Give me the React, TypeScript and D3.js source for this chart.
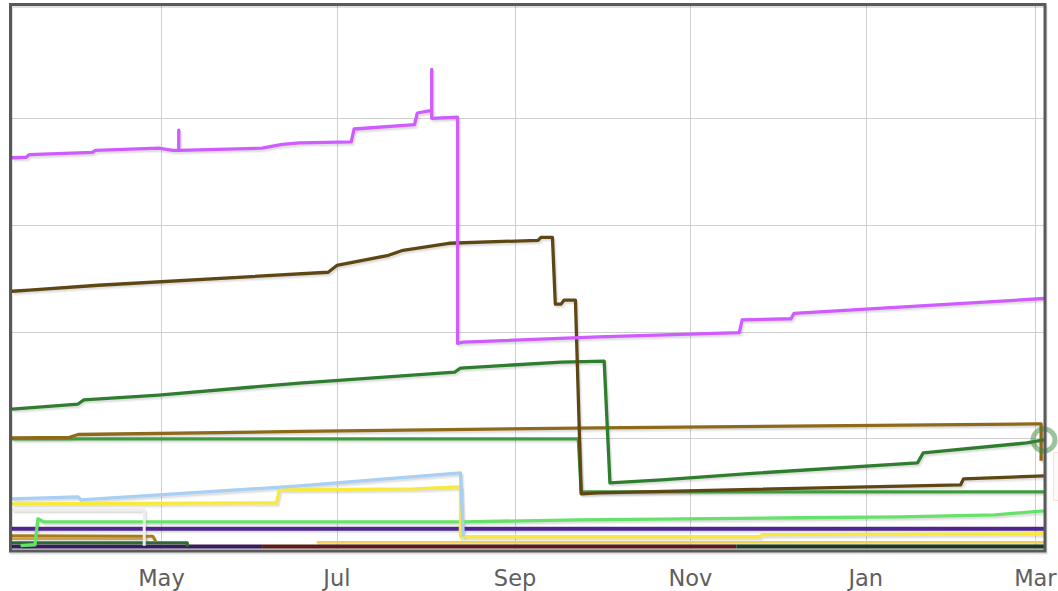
import React from "react";
import * as d3 from "d3";

const W = 1058;
const H = 591;

// x-axis month labels (tick dates)
const tickDates = ["2013-05-01", "2013-07-01", "2013-09-01", "2013-11-01", "2014-01-01", "2014-03-01"];
const tickLabels = ["May", "Jul", "Sep", "Nov", "Jan", "Mar"];
const gridValues = [100, 200, 300, 400];

type Pt = [string, number];

const magenta: Pt[] = [
  ["2013-03-10", 363], ["2013-03-15", 363.5], ["2013-03-16", 366], ["2013-04-07", 368], ["2013-04-08", 370],
  ["2013-04-30", 372], ["2013-05-05", 370], ["2013-05-07", 370], ["2013-05-07", 389], ["2013-05-07", 370],
  ["2013-06-05", 372], ["2013-06-12", 375.5], ["2013-06-18", 377], ["2013-07-06", 378], ["2013-07-07", 390],
  ["2013-07-28", 394], ["2013-07-29", 405], ["2013-08-02", 407], ["2013-08-03", 407], ["2013-08-03", 446],
  ["2013-08-03", 400], ["2013-08-12", 401], ["2013-08-12", 189], ["2013-08-14", 190], ["2013-09-30", 195],
  ["2013-11-18", 199], ["2013-11-19", 211], ["2013-12-06", 212], ["2013-12-07", 217], ["2014-03-04", 231],
];

const darkBrown: Pt[] = [
  ["2013-03-10", 237.8], ["2013-03-16", 238.8], ["2013-04-09", 243.4], ["2013-06-28", 255.6], ["2013-07-01", 262],
  ["2013-07-19", 271.5], ["2013-07-24", 276.2], ["2013-08-09", 282.8], ["2013-09-09", 285.6], ["2013-09-10", 288.4],
  ["2013-09-14", 288.4], ["2013-09-15", 225.7], ["2013-09-17", 225.7], ["2013-09-18", 229.4], ["2013-09-22", 229.4],
  ["2013-09-24", 47.8], ["2013-09-30", 48.7], ["2014-02-03", 56.2], ["2014-02-04", 61.8], ["2014-03-04", 64.6],
];

const darkGreen: Pt[] = [
  ["2013-03-10", 127.3], ["2013-04-02", 132], ["2013-04-04", 135.8], ["2013-04-30", 140.4], ["2013-06-18", 151.7],
  ["2013-08-11", 162], ["2013-08-13", 165.7], ["2013-09-17", 171.3], ["2013-10-02", 172.3], ["2013-10-04", 58],
  ["2013-10-22", 60.9], ["2013-11-20", 66.5], ["2014-01-19", 76.8], ["2014-01-21", 86.1], ["2014-02-26", 95.5],
  ["2014-03-04", 98.3],
];

const goldBrown: Pt[] = [
  ["2013-03-10", 100.2], ["2013-03-30", 100.8], ["2013-04-02", 103.4], ["2013-06-18", 106.3], ["2013-09-30", 109.6],
  ["2014-03-01", 113.3], ["2014-03-03", 113.3], ["2014-03-03", 78.7],
];

const midGreen: Pt[] = [
  ["2013-03-10", 99.3], ["2013-09-23", 99.3], ["2013-09-24", 49.6], ["2014-03-04", 49.6],
];

const lightBlue: Pt[] = [
  ["2013-03-10", 43.1], ["2013-04-02", 44.9], ["2013-04-03", 42.1], ["2013-06-18", 55.2], ["2013-08-13", 67.4],
  ["2013-08-14", 7.5],
];

const yellow: Pt[] = [
  ["2013-03-10", 38.4], ["2013-06-10", 39.3], ["2013-06-11", 51.5], ["2013-07-28", 52.4], ["2013-08-13", 54.3],
  ["2013-08-13", 7.5], ["2013-11-25", 7.5], ["2013-11-26", 9.4], ["2014-03-04", 10.3],
];

const paleGray: Pt[] = [
  ["2013-03-10", 32.8], ["2013-04-25", 32.8], ["2013-04-25", -0.9],
];

const brightGreen: Pt[] = [
  ["2013-03-13", -0.9], ["2013-03-18", 0], ["2013-03-19", 24.3], ["2013-03-21", 21.5], ["2013-08-14", 21.5],
  ["2013-09-23", 23.4], ["2013-12-09", 25.3], ["2014-01-13", 26.2], ["2014-02-15", 28.1], ["2014-03-04", 31.8],
];

const purple: Pt[] = [["2013-03-10", 15], ["2014-03-04", 15]];
const goldSmall: Pt[] = [["2013-03-10", 8.4], ["2013-04-28", 8.0], ["2013-04-29", 3.2]];
const tanSmall: Pt[] = [["2013-03-10", 5.6], ["2013-04-26", 5.6]];
const greenSmall: Pt[] = [["2013-03-10", 1.9], ["2013-05-10", 1.9], ["2013-05-10", -2]];
const yellowThin: Pt[] = [["2013-06-24", 2.4], ["2014-03-04", 2.4]];
const bottomPurple: Pt[] = [["2013-03-10", -1.6], ["2013-06-05", -1.6]];
const bottomRed: Pt[] = [["2013-06-05", -1.6], ["2013-11-17", -1.6]];
const bottomGreen: Pt[] = [["2013-11-17", -1.6], ["2014-03-04", -1.6]];

const seriesList: { data: Pt[]; color: string; width: number }[] = [
  { data: bottomPurple, color: "#3b1a5e", width: 4 },
  { data: bottomRed, color: "#5a1c1a", width: 4 },
  { data: bottomGreen, color: "#1c3a1e", width: 4 },
  { data: yellowThin, color: "#f0d050", width: 2.5 },
  { data: greenSmall, color: "#2e6b34", width: 3 },
  { data: tanSmall, color: "#c9a24a", width: 2.5 },
  { data: goldSmall, color: "#a67c1e", width: 3 },
  { data: purple, color: "#4f2590", width: 4 },
  { data: brightGreen, color: "#66e26a", width: 3.3 },
  { data: paleGray, color: "#eeeeee", width: 3 },
  { data: yellow, color: "#f7ea3a", width: 3.3 },
  { data: lightBlue, color: "#a9cff2", width: 3.3 },
  { data: midGreen, color: "#3e9c3e", width: 3.3 },
  { data: goldBrown, color: "#8d6a1a", width: 3.3 },
  { data: darkGreen, color: "#2f7d2f", width: 3.3 },
  { data: darkBrown, color: "#5f4714", width: 3.3 },
  { data: magenta, color: "#cf5cff", width: 3.3 },
];

const parse = d3.timeParse("%Y-%m-%d");

export default function App() {
  const left = 12, right = 1044, top = 6, bottom = 549;
  const x = d3.scaleTime()
    .domain([parse("2013-03-10") as Date, parse("2014-03-04") as Date])
    .range([left, right]);
  const y = d3.scaleLinear().domain([-4, 505]).range([bottom, top + 0.4]);
  const line = d3.line<Pt>()
    .x((d) => x(parse(d[0]) as Date))
    .y((d) => y(d[1]))
    .curve(d3.curveLinear);

  const lastGreen = darkGreen[darkGreen.length - 1];

  return (
    <svg width={W} height={H} style={{ position: "absolute", left: 0, top: 0, background: "#fff" }}>
      <defs>
        <clipPath id="plot">
          <rect x={left} y={top} width={right - left} height={bottom - top} />
        </clipPath>
      </defs>
      <rect x={0} y={0} width={W} height={H} fill="#fff" />
      {/* grid */}
      <g stroke="#cfcfcf" strokeWidth={1}>
        {gridValues.map((v) => (
          <line key={"h" + v} x1={left} x2={right} y1={Math.round(y(v)) + 0.5} y2={Math.round(y(v)) + 0.5} />
        ))}
        {tickDates.map((t) => {
          const xx = Math.round(x(parse(t) as Date)) + 0.5;
          return <line key={"v" + t} x1={xx} x2={xx} y1={top} y2={bottom} />;
        })}
      </g>
      <g clipPath="url(#plot)" fill="none" strokeLinejoin="round" strokeLinecap="butt">
        {seriesList.map((s, i) => (
          <g key={"sh" + i}>
            <path d={line(s.data) || ""} stroke="rgba(0,0,0,0.07)" strokeWidth={s.width} transform="translate(1.2,1.8)" />
            <path d={line(s.data) || ""} stroke="rgba(0,0,0,0.05)" strokeWidth={s.width} transform="translate(2.2,3)" />
          </g>
        ))}
        {seriesList.map((s, i) => (
          <path key={"s" + i} d={line(s.data) || ""} stroke={s.color} strokeWidth={s.width} />
        ))}
      </g>
      {/* highlight marker */}
      <circle cx={x(parse(lastGreen[0]) as Date)} cy={y(lastGreen[1])} r={11} fill="none"
        stroke="#3a8a3a" strokeOpacity={0.5} strokeWidth={5} />
      {/* tooltip edge */}
      <rect x={1053.5} y={452.5} width={20} height={48} fill="#fffafa" stroke="#ffdede" strokeWidth={1} />
      {/* frame */}
      <rect x={10.5} y={4.5} width={1034.5} height={546.5} fill="none" stroke="rgba(0,0,0,0.12)" strokeWidth={3} transform="translate(1,2)" />
      <rect x={10.5} y={4.5} width={1034.5} height={546.5} fill="none" stroke="#595959" strokeWidth={3} />
      {/* x labels */}
      <g fontFamily="DejaVu Sans, sans-serif" fontSize={22.5} fill="#5e5e5e" textAnchor="middle">
        {tickDates.map((t, i) => (
          <text key={t} x={x(parse(t) as Date)} y={586}>{tickLabels[i]}</text>
        ))}
      </g>
    </svg>
  );
}
